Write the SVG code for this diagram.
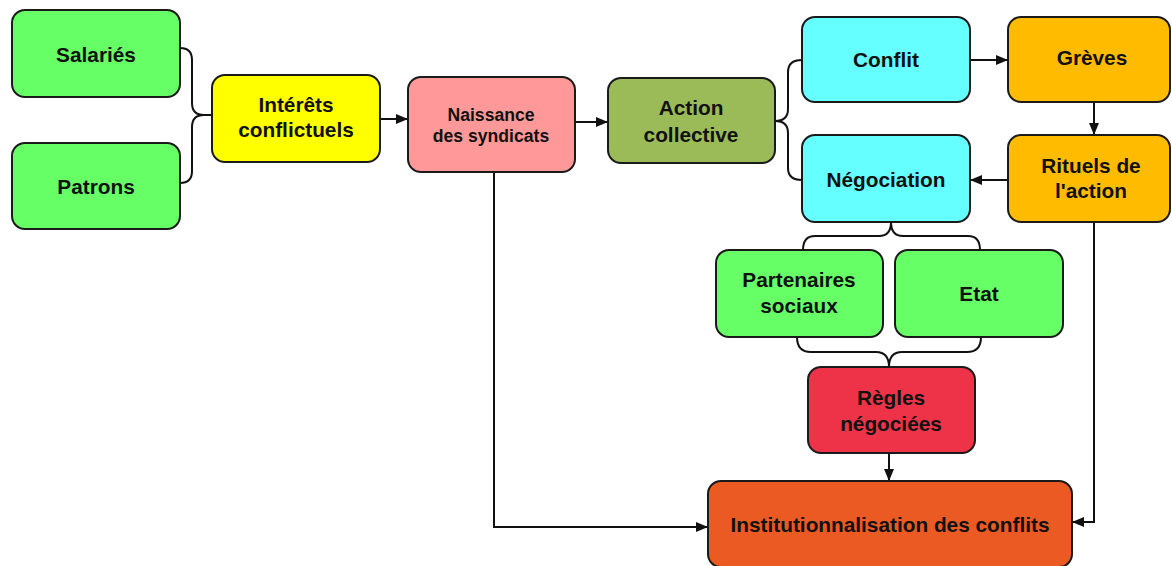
<svg xmlns="http://www.w3.org/2000/svg" width="1172" height="566" viewBox="0 0 1172 566">
<defs>
<marker id="ah" viewBox="0 0 12 10" refX="12" refY="5" markerWidth="12" markerHeight="10" markerUnits="userSpaceOnUse" orient="auto">
<path d="M0,0 L12,5 L0,10 Z" fill="#111"/>
</marker>
<style>
.box{stroke:#1a1a1a;stroke-width:2}
.t{font-family:"Liberation Sans",Arial,sans-serif;font-weight:bold;font-size:20.8px;fill:#111;text-anchor:middle}
.s{font-size:17.6px}
.c{fill:none;stroke:#111;stroke-width:2}
</style>
</defs>
<rect width="1172" height="566" fill="#fff"/>
<g id="connectors">
<path class="c" d="M180,48 Q192,48 192,60 L192,103 Q192,115 204,115 L212,115 M204,115 Q192,115 192,127 L192,171 Q192,183 180,183"/>
<path class="c" d="M380,119 L408,119" marker-end="url(#ah)"/>
<path class="c" d="M575,122 L608,122" marker-end="url(#ah)"/>
<path class="c" d="M775,121 Q788,121 788,109 L788,72 Q788,60 802,60 M775,121 Q788,121 788,133 L788,168 Q788,180 802,180"/>
<path class="c" d="M970,60 L1008,60" marker-end="url(#ah)"/>
<path class="c" d="M1094,102 L1094,135" marker-end="url(#ah)"/>
<path class="c" d="M1008,180 L970,180" marker-end="url(#ah)"/>
<path class="c" d="M891,222 Q891,236 879,236 L815,236 Q803,236 803,250 M891,222 Q891,236 903,236 L968,236 Q980,236 980,250"/>
<path class="c" d="M797,337 Q797,352 811,352 L876,352 Q889,352 889,367 M981,337 Q981,352 967,352 L902,352 Q889,352 889,367"/>
<path class="c" d="M889,453 L889,481" marker-end="url(#ah)"/>
<path class="c" d="M494,172 L494,527 L708,527" marker-end="url(#ah)"/>
<path class="c" d="M1094,222 L1094,522 L1072,522" marker-end="url(#ah)"/>
</g>
<g id="salaries"><rect class="box" x="12" y="10" width="168" height="87" rx="13" fill="#66FF66"/><text class="t" x="96" y="62">Salariés</text></g>
<g id="patrons"><rect class="box" x="12" y="143" width="168" height="86" rx="13" fill="#66FF66"/><text class="t" x="96" y="194">Patrons</text></g>
<g id="interets"><rect class="box" x="212" y="75" width="168" height="87" rx="13" fill="#FFFF00"/><text class="t" x="296" y="112">Intérêts</text><text class="t" x="296" y="137">conflictuels</text></g>
<g id="naissance"><rect class="box" x="408" y="77" width="167" height="95" rx="13" fill="#FF9999"/><text class="t s" x="491" y="121">Naissance</text><text class="t s" x="491" y="142">des syndicats</text></g>
<g id="action"><rect class="box" x="608" y="78" width="167" height="85" rx="13" fill="#9BBB59"/><text class="t" x="691" y="115">Action</text><text class="t" x="691" y="142">collective</text></g>
<g id="conflit"><rect class="box" x="802" y="17" width="168" height="85" rx="13" fill="#66FFFF"/><text class="t" x="886" y="67">Conflit</text></g>
<g id="greves"><rect class="box" x="1008" y="17" width="162" height="85" rx="13" fill="#FFBB00"/><text class="t" x="1092" y="65">Grèves</text></g>
<g id="negociation"><rect class="box" x="802" y="135" width="168" height="87" rx="13" fill="#66FFFF"/><text class="t" x="886" y="187">Négociation</text></g>
<g id="rituels"><rect class="box" x="1008" y="135" width="162" height="87" rx="13" fill="#FFBB00"/><text class="t" x="1091" y="173">Rituels de</text><text class="t" x="1091" y="198">l'action</text></g>
<g id="partenaires"><rect class="box" x="716" y="250" width="167" height="87" rx="13" fill="#66FF66"/><text class="t" x="799" y="287">Partenaires</text><text class="t" x="799" y="313">sociaux</text></g>
<g id="etat"><rect class="box" x="895" y="250" width="168" height="87" rx="13" fill="#66FF66"/><text class="t" x="979" y="301">Etat</text></g>
<g id="regles"><rect class="box" x="808" y="367" width="167" height="86" rx="13" fill="#EE3348"/><text class="t" x="891" y="405">Règles</text><text class="t" x="891" y="431">négociées</text></g>
<g id="institutionnalisation"><rect class="box" x="708" y="481" width="364" height="86" rx="13" fill="#EB5A22"/><text class="t" x="890" y="532">Institutionnalisation des conflits</text></g>
</svg>
